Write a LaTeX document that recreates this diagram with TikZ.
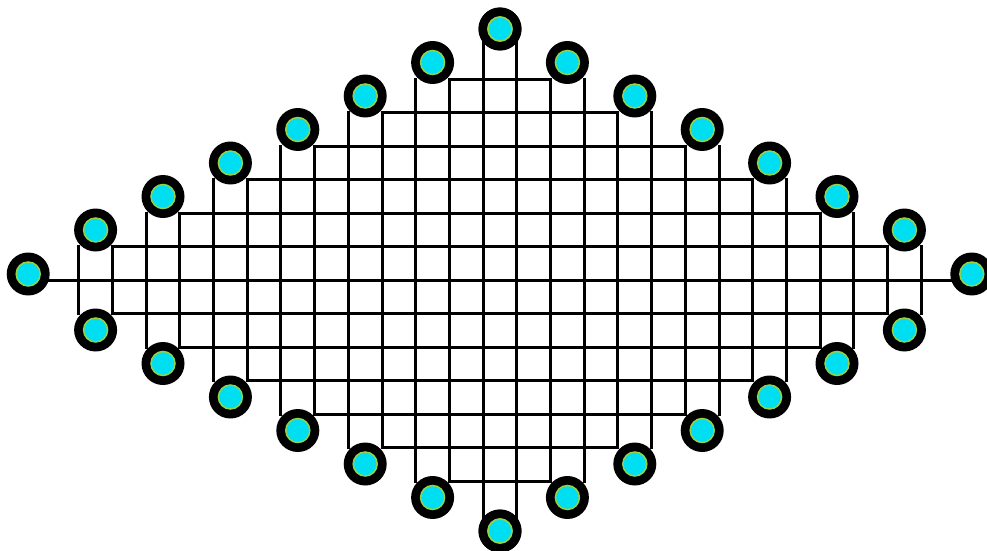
\documentclass[tikz,border=0pt]{standalone}
\definecolor{dotcyan}{RGB}{0,222,242}
\definecolor{dotrim}{RGB}{150,210,70}
\pgfdeclarelayer{bg}
\pgfsetlayers{bg,main}
\begin{document}
\begin{tikzpicture}[x=1pt,y=-1pt,
  gridline/.style={line width=3pt,black,line cap=rect},
  ring/.style={circle,fill=black,minimum size=43pt,inner sep=0pt},
  core/.style={circle,fill=dotcyan,draw=dotrim,line width=1.5pt,minimum size=24pt,inner sep=0pt}]
\useasboundingbox (0,0) rectangle (987,551);
% boundary circles
\foreach \j in {0,...,6} {
  \node[ring] (tl\j) at ({500-67.4*\j},{29+33.5*\j}) {};
  \node[ring] (tr\j) at ({500+67.4*\j},{29+33.5*\j}) {};
  \node[ring] (bl\j) at ({500-67.4*\j},{531-33.5*\j}) {};
  \node[ring] (br\j) at ({500+67.4*\j},{531-33.5*\j}) {};
  \node[core] at (tl\j) {};
  \node[core] at (tr\j) {};
  \node[core] at (bl\j) {};
  \node[core] at (br\j) {};
}
\node[ring] (lc) at (28.2,274) {};
\node[ring] (rc) at (971.8,274) {};
\node[core] at (lc) {};
\node[core] at (rc) {};
\begin{pgfonlayer}{bg}
  % nested rectangles
  \foreach \j in {1,...,6} {
    \draw[gridline] ({500-16.85-33.7*(2*\j-1)},{280-33.5*(7-\j)}) rectangle
                    ({500+16.85+33.7*(2*\j-1)},{280+33.5*(7-\j)});
    \draw[gridline] ({500-16.85-67.4*\j},{280-33.5*(7-\j)}) -- ({500-16.85-67.4*\j},{280+33.5*(7-\j)});
    \draw[gridline] ({500+16.85+67.4*\j},{280-33.5*(7-\j)}) -- ({500+16.85+67.4*\j},{280+33.5*(7-\j)});
  }
  % central verticals between top and bottom circles
  \draw[gridline] ([xshift=-16.85pt]tl0.center) -- ([xshift=-16.85pt]bl0.center);
  \draw[gridline] ([xshift=16.85pt]tl0.center) -- ([xshift=16.85pt]bl0.center);
  % central horizontal between end circles
  \draw[gridline] (lc.center |- 0,280) -- (rc.center |- 0,280);
\end{pgfonlayer}
\end{tikzpicture}
\end{document}
